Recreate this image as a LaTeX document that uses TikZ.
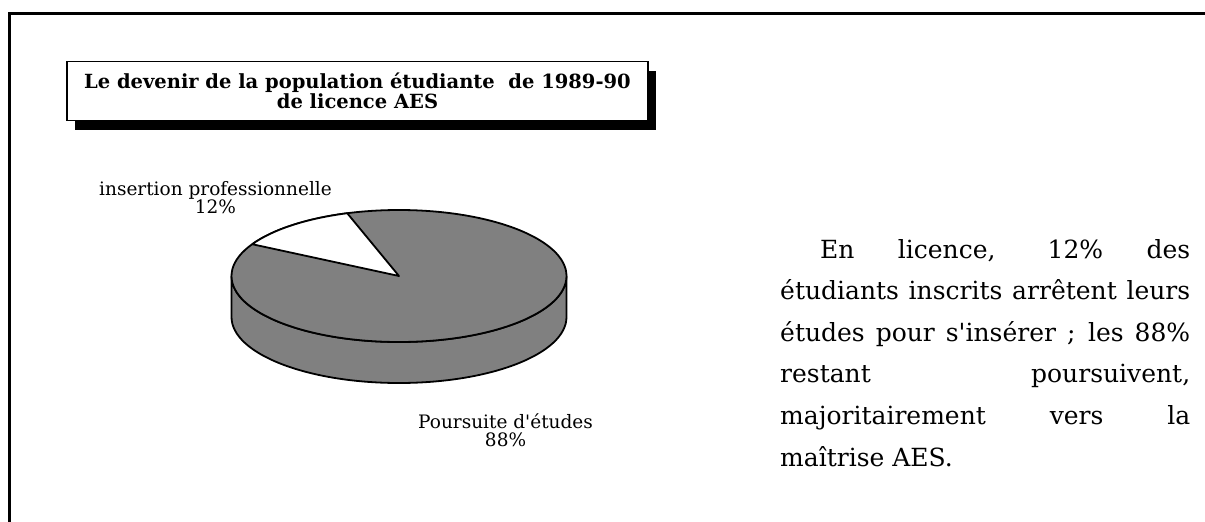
\documentclass[tikz,border=0pt]{standalone}
\usepackage{fontspec}
\setmainfont{DejaVu Serif}[Ligatures=TeXOff]
\usetikzlibrary{positioning,shadows}
\definecolor{piegray}{RGB}{128,128,128}

\begin{document}
\begin{tikzpicture}[x=1pt,y=1pt,
    pieline/.style={line width=1.8pt,line join=round},
    pielabel/.style={align=center,inner sep=0pt,font=\fontsize{18.5}{18}\selectfont}]
  \useasboundingbox (0,0) rectangle (1205,-522);
  % page frame
  \draw[line width=3pt] (9.5,-522) |- (1205,-13);

  % title
  \node[draw,line width=1.8pt,fill=white,minimum width=581pt,minimum height=59pt,
        drop shadow={shadow xshift=8pt,shadow yshift=-9pt,fill=black,opacity=1},
        align=center,font=\fontsize{19.5}{20}\selectfont\bfseries] (title) at (357.5,-91)
        {Le devenir de la population étudiante \ de 1989-90\\de licence AES};

  % pie
  \coordinate (pie) at (399,-276);
  \def\pieRx{167.5}
  \def\pieRy{66}
  \def\pieDepth{41}
  \draw[pieline,fill=piegray] (pie) ++(-\pieRx,0) -- ++(0,-\pieDepth)
      arc[start angle=180,end angle=360,x radius=\pieRx,y radius=\pieRy]
      -- ++(0,\pieDepth)
      arc[start angle=0,end angle=-180,x radius=\pieRx,y radius=\pieRy] -- cycle;
  \draw[pieline,fill=piegray] (pie) ellipse[x radius=\pieRx,y radius=\pieRy];
  \draw[pieline,fill=white] (pie) -- ++(108:\pieRx pt and \pieRy pt)
      arc[start angle=108,end angle=151.2,x radius=\pieRx,y radius=\pieRy] -- cycle;

  \node[pielabel] (inslabel) [above left=62pt and 67pt of pie] {insertion professionnelle\\12\%};
  \node[pielabel] (etudlabel) [below right=137pt and 19pt of pie] {Poursuite d'études\\88\%};

  % comment
  \node[text width=410pt,align=justify,inner sep=0pt,anchor=north west,
        font=\fontsize{25}{41.6}\selectfont] (comment) at (780,-239)
        {\hspace*{40pt}En licence, 12\% des\linebreak
         étudiants inscrits arrêtent leurs\linebreak
         études pour s'insérer ; les 88\%\linebreak
         restant poursuivent,\linebreak
         majoritairement vers la\linebreak
         maîtrise AES.};
\end{tikzpicture}
\end{document}
